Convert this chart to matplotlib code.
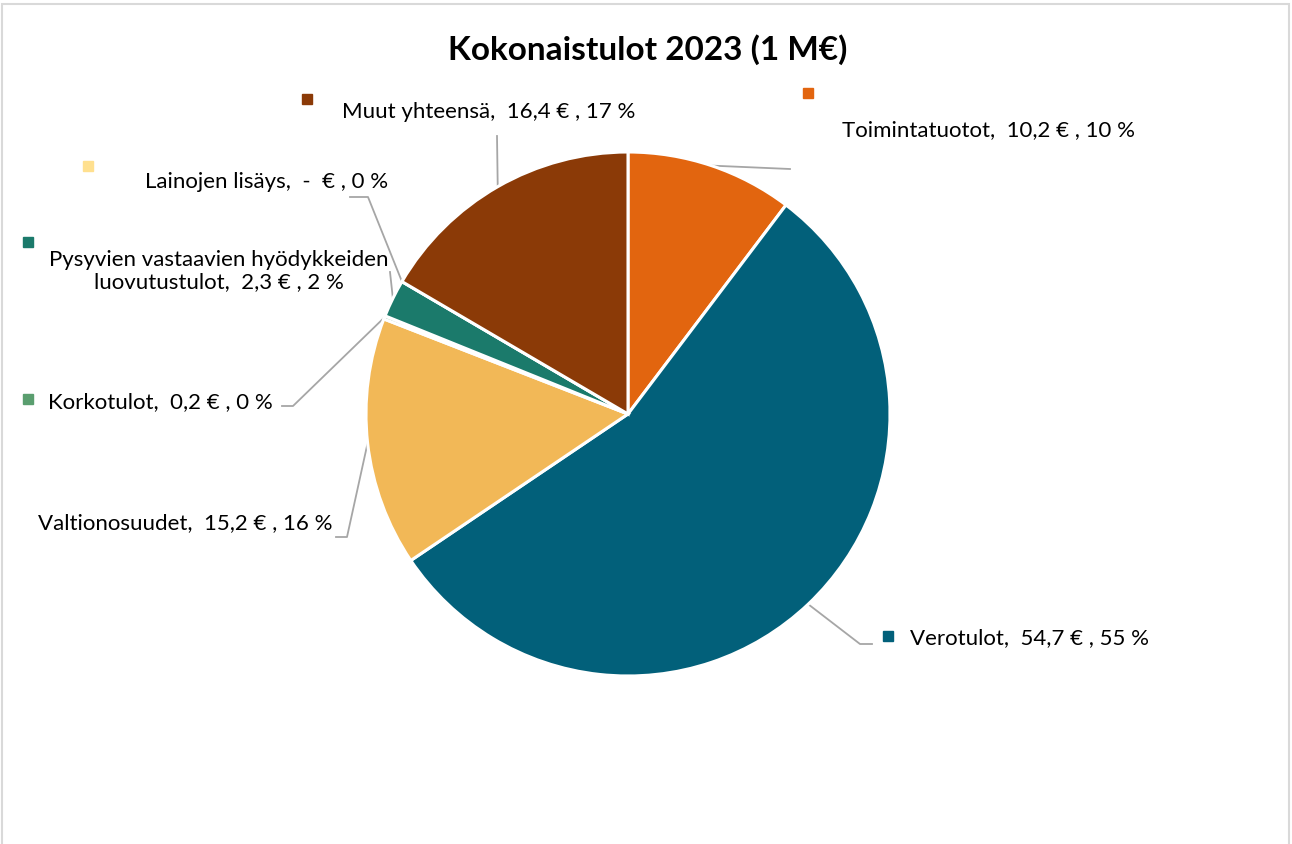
import numpy as np
import matplotlib.pyplot as plt
from matplotlib.patches import Rectangle

# Tulot 2023, milj. euroa (kellon suuntaan klo 12 alkaen)
categories = ['Toimintatuotot', 'Verotulot', 'Valtionosuudet', 'Korkotulot',
              'Pysyvien vastaavien hyödykkeiden\nluovutustulot', 'Lainojen lisäys',
              'Muut yhteensä']
values = [10.2, 54.7, 15.2, 0.2, 2.3, 0.0, 16.4]
percents = [10, 55, 16, 0, 2, 0, 17]
colors = ['#E2650F', '#02607A', '#F2B857', '#5A9E6F', '#1B7A6B', '#FFE08F', '#8B3A07']
show_marker = [True, True, False, True, True, True, True]

# label layout in pixels: marker (x, y), text (x, y, ha), leader elbow points
marker_px = [(808, 94), (888, 637), None, (28, 400), (28, 243), (88, 167), (307, 100)]
text_px = [(842, 130, 'left'), (910, 638, 'left'), (38, 523, 'left'), (48, 402, 'left'),
           (219, 271, 'center'), (145, 182, 'left'), (342, 112, 'left')]
leader_px = [[(790, 170)],
             [(860, 645), (872, 645)],
             [(347, 538), (336, 538)],
             [(293, 407), (282, 407)],
             [(390, 273)],
             [(368, 198), (350, 198)],
             [(497, 137)]]

W, H = 1292, 845
CX, CY, R = 628, 415, 262

plt.rcParams['font.family'] = ['Lato', 'DejaVu Sans']

fig = plt.figure(figsize=(W / 100, H / 100), dpi=100)
ax = fig.add_axes([(CX - R) / W, (H - CY - R) / H, 2 * R / W, 2 * R / H])


def px(x, y):
    return (x - CX) / R, (CY - y) / R


wedges, _ = ax.pie(values, colors=colors, startangle=90, counterclock=False,
                   radius=1, wedgeprops=dict(edgecolor='white', linewidth=2.2))
ax.set_xlim(-1, 1)
ax.set_ylim(-1, 1)
ax.set_aspect('equal')
ax.axis('off')


def fmt(v):
    if v == 0:
        return '-  €'
    return f'{v:.1f}'.replace('.', ',') + ' €'


for i, w in enumerate(wedges):
    ang = np.deg2rad((w.theta1 + w.theta2) / 2)
    ax0, ay0 = np.cos(ang), np.sin(ang)
    pts = [(ax0, ay0)] + [px(*p) for p in leader_px[i]]
    xs, ys = zip(*pts)
    ax.plot(xs, ys, color='#A6A6A6', lw=1.3, clip_on=False, zorder=0)

    tx, ty, ha = text_px[i]
    label = f'{categories[i]},  {fmt(values[i])} , {percents[i]} %'
    ax.text(*px(tx, ty), label, ha=ha, va='center', fontsize=16,
            multialignment='center', linespacing=1.15, clip_on=False)
    if show_marker[i]:
        mx, my = px(*marker_px[i])
        ax.plot([mx], [my], marker='s', ms=6.5, color=colors[i], clip_on=False)

fig.text(648 / W, 1 - 50 / H, 'Kokonaistulot 2023 (1 M€)', ha='center', va='center',
         fontsize=24, fontweight='bold')

fig.patches.append(Rectangle((2 / W, -0.1), 1287 / W, 1.1 - 5 / H, transform=fig.transFigure,
                             fill=False, edgecolor='#D9D9D9', lw=1.5))

fig.savefig('out.png', dpi=100, facecolor='white')
